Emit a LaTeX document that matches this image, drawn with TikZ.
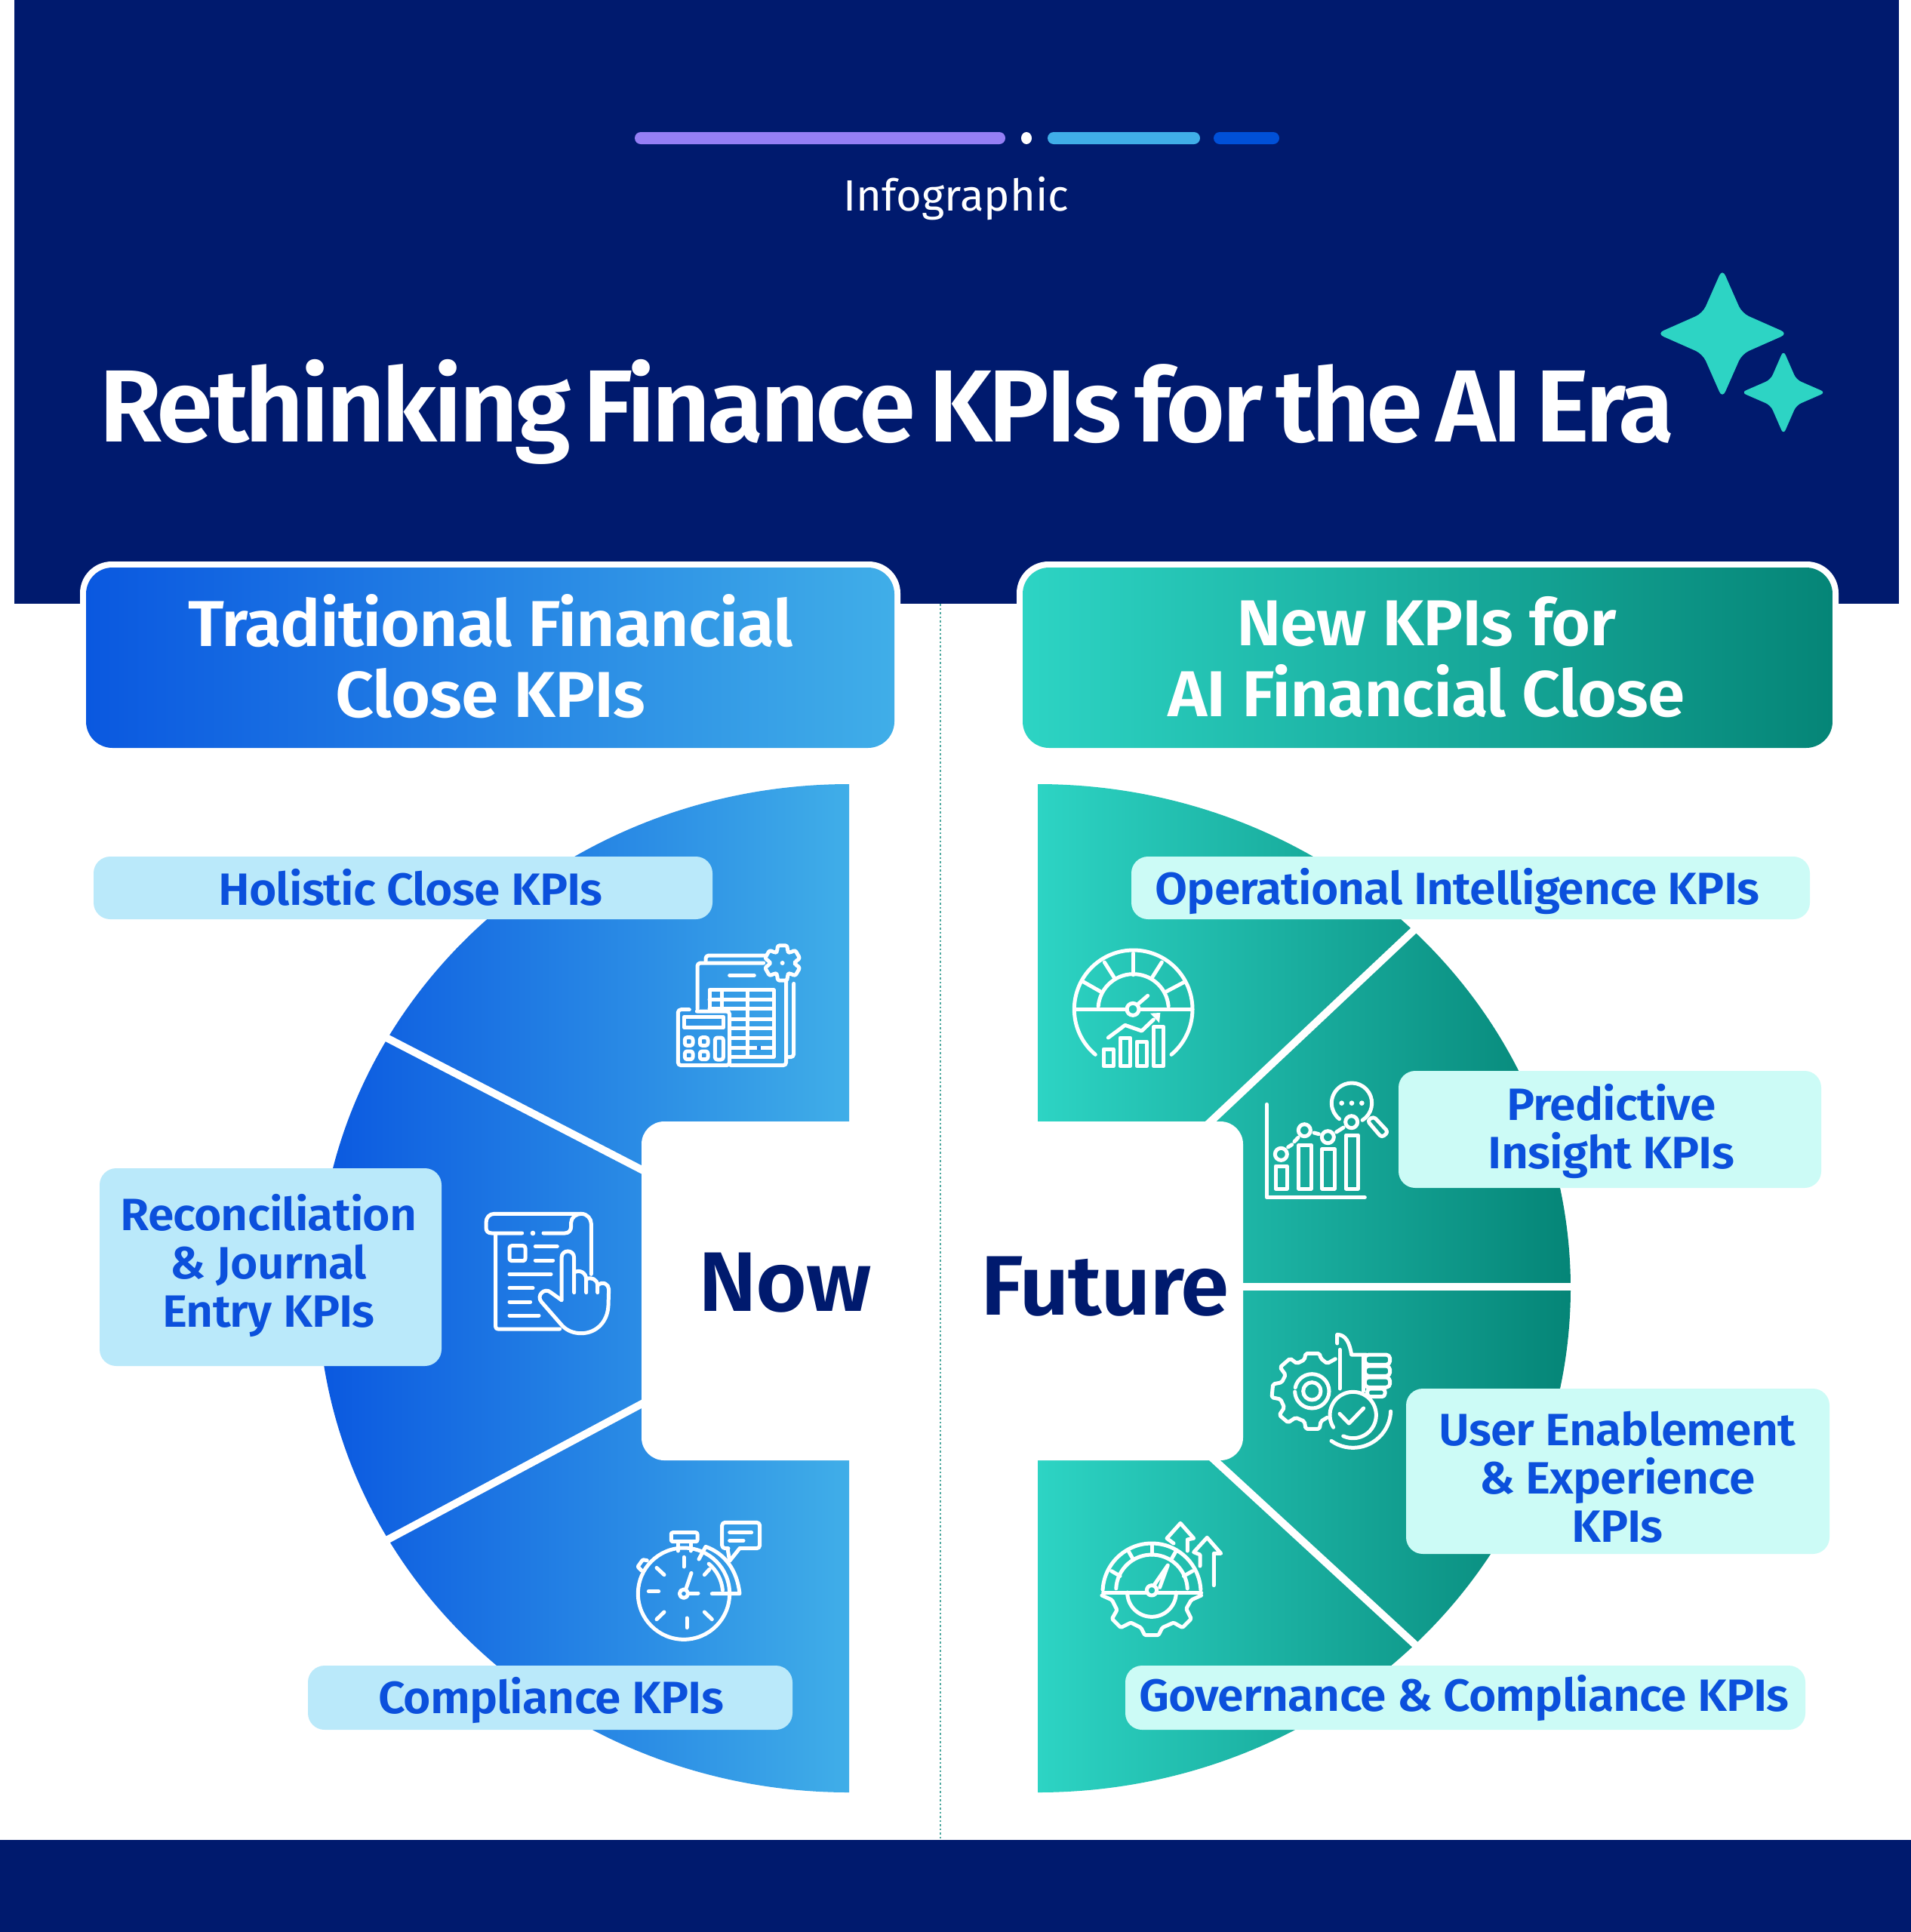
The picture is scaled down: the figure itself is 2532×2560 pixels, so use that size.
\documentclass[tikz,border=0pt]{standalone}
\usepackage{fontspec}
\setmainfont{Fira Sans}
\newfontfamily\fsemi{Fira Sans SemiBold}[LetterSpace=-1.5,FakeStretch=1.04]
\newfontfamily\ftitle{Fira Sans SemiBold}[LetterSpace=-3.6,WordSpace=0.6]
\newfontfamily\flight{Fira Sans}
\definecolor{navy}{HTML}{001A6E}
\definecolor{blueA}{HTML}{0A58E0}
\definecolor{blueB}{HTML}{40AEE8}
\definecolor{tealA}{HTML}{2DD4C4}
\definecolor{tealB}{HTML}{058577}
\definecolor{pillL}{HTML}{BAE9FA}
\definecolor{pillR}{HTML}{CCFBF6}
\definecolor{inkB}{HTML}{0B50DC}
\definecolor{barP}{HTML}{957FF5}
\definecolor{barD}{HTML}{0050D8}
\tikzset{
  icon/.style={draw=white,line width=5pt,line cap=round,line join=round},
  pillL/.style={fill=pillL,rounded corners=22pt},
  pillR/.style={fill=pillR,rounded corners=22pt},
  sep/.style={draw=white,line width=10pt},
  lbl/.style={inner sep=0pt,align=center,text=inkB,font=\fsemi\fontsize{60}{64}\selectfont},
  head/.style={inner sep=0pt,align=center,text=white,font=\fsemi\fontsize{86}{94}\selectfont},
  big/.style={inner sep=0pt,text=navy,font=\fsemi\fontsize{112}{120}\selectfont}
}
% arc by centre, radius, on-screen angles (counter-clockwise positive)
\newcommand{\arcC}[6][icon]{\draw[#1] ({#2+(#4)*cos(#5)},{#3-(#4)*sin(#5)}) arc[radius=#4,start angle=-(#5),end angle=-(#6)];}
\newcommand{\gearC}[7][icon]{% cx cy ro ri n off
  \draw[#1,rounded corners=2.5pt] ({#2+(#4)*cos(#7-90/#6)},{#3+(#4)*sin(#7-90/#6)})
  \foreach \ii in {1,...,#6}{ 
    -- ({#2+(#4)*cos(#7+(\ii-1)*360/#6-90/#6)},{#3+(#4)*sin(#7+(\ii-1)*360/#6-90/#6)})
    -- ({#2+(#4)*cos(#7+(\ii-1)*360/#6+90/#6)},{#3+(#4)*sin(#7+(\ii-1)*360/#6+90/#6)})
    -- ({#2+(#5)*cos(#7+(\ii-1)*360/#6+150/#6)},{#3+(#5)*sin(#7+(\ii-1)*360/#6+150/#6)})
    -- ({#2+(#5)*cos(#7+\ii*360/#6-150/#6)},{#3+(#5)*sin(#7+\ii*360/#6-150/#6)})
  } -- cycle;}
\begin{document}
\begin{tikzpicture}[x=1pt,y=-1pt]
\useasboundingbox (0,0) rectangle (2532,2560);
\fill[white] (0,0) rectangle (2532,2560);
% bands
\fill[navy] (19,0) rectangle (2516,800);
\fill[navy] (0,2438) rectangle (2532,2560);
% top rule
\fill[barP,rounded corners=8pt] (841,175) rectangle (1332,191);
\fill[white] (1360,183) circle[x radius=7,y radius=8];
\fill[blueB,rounded corners=8pt] (1388,175) rectangle (1590,191);
\fill[barD,rounded corners=8pt] (1608,175) rectangle (1695,191);
\node[inner sep=0pt,text=white,font=\flight\fontsize{58}{64}\selectfont,anchor=base] (kicker) at (1267,279) {Infographic};
\node[inner sep=0pt,text=white,font=\ftitle\fontsize{136}{150}\selectfont,anchor=base] (title) at (1175,585) {Rethinking Finance KPIs for the AI Era};
% stars
\fill[tealA,rounded corners=10pt] (2282,356) -- (2308,415) -- (2369,442) -- (2308,469) -- (2282,528) -- (2256,469) -- (2195,442) -- (2256,415) -- cycle;
\fill[tealA,rounded corners=7pt] (2363,464) -- (2380,503) -- (2419,520) -- (2380,537) -- (2363,576) -- (2346,537) -- (2307,520) -- (2346,503) -- cycle;
% half discs
\shade[left color=blueA,right color=blueB] (1125,1039) arc[x radius=704,y radius=668,start angle=270,end angle=90] -- cycle;
\shade[left color=tealA,right color=tealB] (1375,1039) arc[x radius=706,y radius=668,start angle=-90,end angle=90] -- cycle;
% separators
\coordinate (sl1a) at (860,1555); \coordinate (sl1b) at (510,1374);
\coordinate (sl2a) at (860,1855); \coordinate (sl2b) at (510,2042);
\draw[sep] (sl1a) -- (sl1b); \draw[sep] (sl2a) -- (sl2b);
\coordinate (sr1a) at (1584,1505); \coordinate (sr1b) at (1874,1232);
\coordinate (sr2a) at (1640,1705); \coordinate (sr2b) at (2090,1705);
\coordinate (sr3a) at (1604,1930); \coordinate (sr3b) at (1878,2182);
\draw[sep] (sr1a) -- (sr1b); \draw[sep] (sr2a) -- (sr2b); \draw[sep] (sr3a) -- (sr3b);
% centre blocks
\fill[white,rounded corners=30pt] (850,1486) rectangle (1240,1935);
\fill[white,rounded corners=30pt] (1260,1486) rectangle (1647,1935);
\draw[tealB!70!white,line width=1.6pt,dash pattern=on 2.5pt off 3pt] (1246,800) -- (1246,2438);
% header boxes
\fill[white,rounded corners=42pt] (106,744) rectangle (1193,900);
\fill[white,rounded corners=42pt] (1347,744) rectangle (2436,900);
\shade[left color=blueA,right color=blueB,rounded corners=35pt] (114,752) rectangle (1185,991);
\shade[left color=tealA,right color=tealB,rounded corners=35pt] (1355,752) rectangle (2428,991);
\node[head] (hl) at (650,870) {Traditional Financial\\Close KPIs};
\node[head] (hr) at (1890,871) {New KPIs for\\AI Financial Close};
\node[big] (now) at (1040,1700) {Now};
\node[big] (future) at (1464,1705) {Future};
% pills
\fill[pillL] (124,1135) rectangle (944,1218);
\fill[pillL] (132,1548) rectangle (585,1810);
\fill[pillL] (408,2207) rectangle (1050,2292);
\fill[pillR] (1499,1135) rectangle (2398,1218);
\fill[pillR] (1853,1419) rectangle (2413,1574);
\fill[pillR] (1863,1840) rectangle (2424,2059);
\fill[pillR] (1491,2207) rectangle (2392,2292);
\node[lbl] (p1) at (544,1176) {Holistic Close KPIs};
\node[lbl] (p2) at (356,1677) {Reconciliation\\\& Journal\\Entry KPIs};
\node[lbl] (p3) at (730,2253) {Compliance KPIs};
\node[lbl] (p4) at (1931,1181) {Operational Intelligence KPIs};
\node[lbl] (p5) at (2135,1499) {Predictive\\Insight KPIs};
\node[lbl] (p6) at (2143,1957) {User Enablement\\\& Experience\\KPIs};
\node[lbl] (p7) at (1940,2250) {Governance \& Compliance KPIs};

% icon 1
\begin{scope}[shift={(840,1240)},scale=1/3]
\draw[icon,rounded corners=4pt] (285,100) -- (285,78) -- (520,78);
\draw[icon,rounded corners=4pt] (252,290) -- (252,108) -- (515,108);
\draw[icon,rounded corners=4pt] (605,180) -- (605,515) -- (385,515);
\draw[icon,rounded corners=4pt] (635,190) -- (635,482) -- (610,482);
\draw[icon] (380,157) -- (478,157);
\draw[icon] (300,290) -- (300,215) -- (555,215) -- (555,480) -- (385,480);
\foreach \yy in {330,368,405,445} \draw[icon] (385,\yy) -- (555,\yy);
\draw[icon] (300,252) -- (555,252);
\draw[icon] (300,290) -- (555,290);
\draw[icon] (350,215) -- (350,290);
\draw[icon] (450,215) -- (450,480);
\fill[blueA!50!blueB] (488,438) rectangle (505,452);
\draw[icon,rounded corners=4pt] (220,293) -- (175,293) -- (175,515) -- (380,515) -- (380,300) -- (250,300);
\draw[icon] (200,322) rectangle (355,365);
\foreach \xx/\yy in {218/420,278/420,218/475,278/475} \draw[icon,rounded corners=3pt] (\xx-16,\yy-16) rectangle (\xx+16,\yy+16);
\draw[icon,rounded corners=3pt] (322,405) rectangle (355,492);
\gearC{590}{108}{72}{50}{6}{90}
\fill[white] (590,108) circle (9);
\end{scope}
% icon 2
\begin{scope}[shift={(620,1560)},scale=1/3]
\draw[icon] (215,222) -- (95,222) .. controls (80,222) and (72,215) .. (72,200) -- (72,180) .. controls (72,160) and (85,145) .. (105,145) -- (450,145) .. controls (475,145) and (490,165) .. (490,185) -- (490,385);
\draw[icon] (300,222) -- (385,222) .. controls (402,222) and (410,210) .. (410,195) -- (410,180) .. controls (410,160) and (430,145) .. (450,145);
\fill[white] (258,222) circle (10);
\draw[icon,rounded corners=3pt] (110,225) -- (110,603) -- (365,603);
\draw[icon,rounded corners=3pt] (165,272) rectangle (228,332);
\draw[icon] (268,275) -- (355,275);
\draw[icon] (268,330) -- (338,330);
\draw[icon] (165,385) -- (330,385);
\draw[icon] (165,440) -- (258,440);
\draw[icon] (165,495) -- (248,495);
\draw[icon] (165,549) -- (282,549);
\draw[icon] (372,488) -- (372,320) .. controls (372,285) and (422,285) .. (422,320) -- (422,458);
\draw[icon] (422,378) .. controls (445,365) and (470,380) .. (470,405) -- (470,458);
\draw[icon] (470,405) .. controls (490,395) and (515,405) .. (515,430) -- (515,458);
\draw[icon] (515,430) .. controls (535,410) and (560,425) .. (560,445) -- (558,510) .. controls (555,575) and (510,620) .. (450,620) .. controls (420,620) and (395,610) .. (375,590) -- (292,495) .. controls (270,470) and (305,435) .. (330,458) -- (372,488);
\end{scope}
% icon 3
\begin{scope}[shift={(820,2000)},scale=1/3]
\draw[icon] (258,335) circle (182);
\draw[icon] (318,198) -- (345,148) .. controls (420,175) and (470,240) .. (480,335) -- (370,335);
\arcC{258}{335}{155}{5}{50}
\draw[icon] (235,165) -- (235,130); \draw[icon] (285,165) -- (285,130);
\draw[icon,rounded corners=2pt] (208,92) rectangle (312,128);
\draw[icon,rounded corners=1pt] (112,203) -- (95,200) -- (75,228) -- (90,243);
\draw[icon] (258,190) -- (258,228);
\draw[icon] (270,432) -- (270,470);
\draw[icon] (118,326) -- (158,326);
\draw[icon] (150,232) -- (180,260);
\draw[icon] (150,437) -- (180,408);
\draw[icon] (340,408) -- (370,437);
\draw[icon] (340,260) -- (360,238);
\draw[icon] (258,335) circle (17);
\draw[icon] (268,312) -- (288,253);
\draw[icon] (278,333) -- (315,333);
\draw[icon,rounded corners=4pt] (435,155) -- (410,155) -- (410,52) -- (560,52) -- (560,155) -- (480,155);
\draw[icon] (432,155) -- (440,205) -- (480,155);
\draw[icon] (440,92) -- (527,92);
\draw[icon] (440,124) -- (495,124);
\end{scope}
% icon 4
\begin{scope}[shift={(1400,1240)},scale=1/3]
\arcC{305}{292}{235}{230}{-50}
\draw[icon] (72,292) -- (280,292);
\draw[icon] (330,292) -- (540,292);
\arcC{305}{292}{140}{175}{5}
\draw[icon] (305,70) -- (305,155);
\draw[icon] (418,105) -- (380,165);
\draw[icon] (190,105) -- (230,168);
\draw[icon] (505,185) -- (435,222);
\draw[icon] (105,182) -- (175,222);
\draw[icon] (303,292) circle (24);
\draw[icon] (325,270) -- (362,238);
\draw[icon] (205,405) -- (272,355) -- (338,378) -- (385,333);
\fill[white] (372,308) -- (412,306) -- (408,346) -- cycle;
\draw[icon] (186,450) rectangle (226,518);
\draw[icon] (252,405) rectangle (293,518);
\draw[icon] (318,420) rectangle (358,518);
\draw[icon] (385,362) rectangle (425,518);
\end{scope}
% icon 5
\begin{scope}[shift={(1660,1420)},scale=1/3]
\draw[icon] (55,130) -- (55,500) -- (445,500);
\draw[icon] (90,375) rectangle (135,465);
\draw[icon] (182,292) rectangle (232,465);
\draw[icon] (275,308) rectangle (325,465);
\draw[icon] (370,252) rectangle (418,465);
\draw[icon] (112,328) circle (24);
\draw[icon] (205,233) circle (24);
\draw[icon] (298,260) circle (24);
\draw[icon] (392,200) circle (24);
\draw[icon] (140,300) -- (155,290);
\draw[icon] (165,278) -- (180,262);
\draw[icon] (243,243) -- (262,248);
\draw[icon] (332,240) -- (360,222);
\arcC{393}{125}{80}{-58}{232}
\draw[icon,rounded corners=4pt] (455,195) -- (480,178) -- (538,240) -- (512,262) -- cycle;
\fill[white] (353,125) circle (10);
\fill[white] (393,125) circle (10);
\fill[white] (433,125) circle (10);
\end{scope}
% icon 6
\begin{scope}[shift={(1670,1760)},scale=1/3]
\draw[icon,rounded corners=2pt] (298,122) -- (265,140) -- (240,120) -- (235,100) -- (180,100) -- (175,125) -- (145,140) -- (118,120) -- (78,155) -- (100,185) -- (85,215) -- (50,222) -- (45,275) -- (80,282) -- (95,315) -- (75,345) -- (110,375) -- (140,355) -- (175,370) -- (180,400) -- (235,400) -- (240,370) -- (265,355);
\arcC{205}{250}{68}{168}{-178}
\draw[icon] (205,250) circle (35);
\draw[icon] (315,85) -- (315,240);
\draw[icon] (305,60) -- (305,25) .. controls (340,25) and (355,60) .. (362,105) -- (420,105);
\draw[icon,rounded corners=5pt] (415,105) rectangle (515,145);
\draw[icon,rounded corners=5pt] (415,150) rectangle (515,190);
\draw[icon,rounded corners=5pt] (415,195) rectangle (515,235);
\draw[icon,rounded corners=4pt] (425,240) rectangle (495,272);
\draw[icon] (410,110) -- (410,250);
\arcC{368}{345}{92}{-115}{212}
\draw[icon] (315,340) -- (352,378) -- (410,318);
\arcC{368}{325}{150}{-125}{-2}
\end{scope}
% icon 7
\begin{scope}[shift={(1440,2010)},scale=1/3]
\arcC{258}{300}{195}{177}{3}
\arcC{258}{292}{142}{177}{3}
\draw[icon] (65,302) -- (238,302);
\draw[icon] (280,302) -- (455,302);
\draw[icon] (258,110) -- (258,150);
\draw[icon] (165,135) -- (185,170);
\draw[icon] (355,135) -- (335,170);
\draw[icon] (98,215) -- (132,235);
\draw[icon] (420,215) -- (385,235);
\draw[icon] (258,292) circle (20);
\draw[icon] (268,270) -- (322,192) -- (290,280);
\arcC{258}{300}{97}{180}{360}
\draw[icon,rounded corners=1.5pt] (60,312) -- (100,330) -- (120,370) -- (100,405) -- (135,440) -- (175,420) -- (215,440) -- (230,470) -- (285,470) -- (300,440) -- (345,420) -- (380,440) -- (415,405) -- (395,365) -- (415,330) -- (455,312);
\draw[icon] (345,105) -- (318,85) -- (372,25) -- (425,85) -- (400,90) -- (400,135);
\draw[icon] (450,195) -- (450,150) -- (425,140) -- (478,82) -- (533,145) -- (505,145) -- (505,272);
\end{scope}
\end{tikzpicture}
\end{document}
